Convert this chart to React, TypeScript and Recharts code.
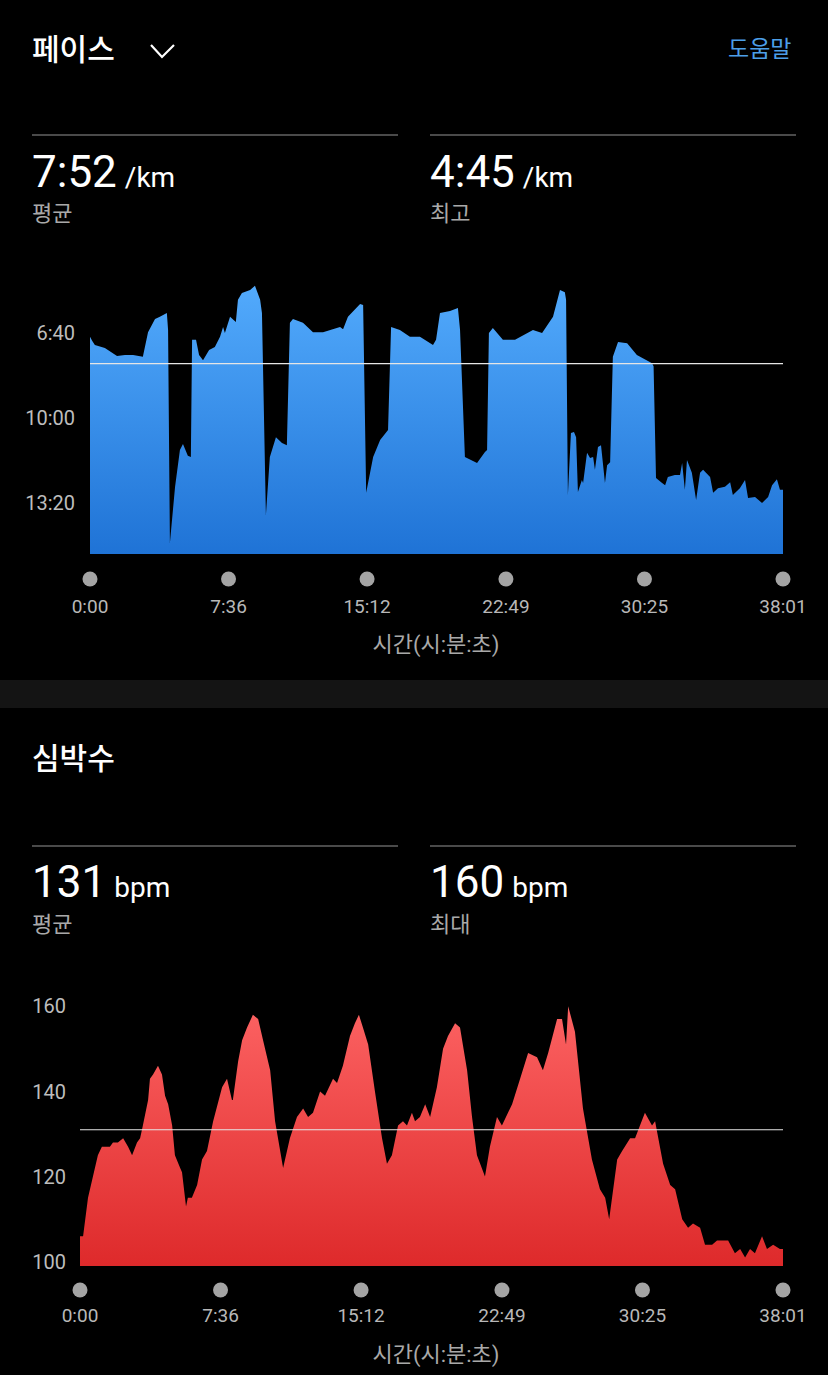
import { AreaChart, Area, XAxis, YAxis, ReferenceLine } from 'recharts';

const FONT = "Roboto, 'Noto Sans CJK KR', sans-serif";

// time axis (seconds), shared by both charts
const TIME_TICKS = [0, 456, 912, 1369, 1825, 2281];

// pace (seconds per km)
const PACE_TICKS = [400, 600, 800];
const PACE_AVG = 472; // 7:52 /km
const PACE_T = [
  0, 7, 16, 49, 89, 115, 142, 174, 191, 214, 230, 253, 257, 263, 280, 296, 306, 322, 332, 336,
  349, 359, 372, 392, 411, 428, 438, 444, 461, 480, 487, 500, 527, 543, 560, 566, 579, 592, 612, 632,
  648, 658, 668, 701, 734, 767, 823, 833, 849, 889, 899, 909, 932, 955, 981, 991,
  1020, 1053, 1086, 1129, 1139, 1152, 1185, 1211, 1218, 1234, 1274, 1300, 1307, 1313, 1326, 1359, 1399, 1458, 1488, 1524,
  1547, 1563, 1567,
  1573, 1583, 1593, 1600, 1606, 1619, 1623, 1636, 1646, 1656, 1662, 1672, 1682, 1695, 1702, 1712, 1721, 1738, 1768, 1800,
  1850, 1855, 1863,
  1883, 1893, 1902, 1925, 1942, 1949, 1958, 1965, 1981, 1995, 2008, 2018, 2041, 2051, 2067, 2090, 2107, 2116, 2139, 2156,
  2166, 2189, 2212, 2232, 2245, 2261, 2271, 2281,
];
const PACE_S = [
  409, 418, 428, 435, 454, 452, 452, 456, 398, 367, 362, 353, 393, 894, 762, 675, 661, 689, 692, 416,
  416, 452, 464, 440, 433, 409, 386, 400, 362, 374, 322, 306, 299, 289, 322, 353, 828, 692, 645, 659,
  664, 376, 367, 376, 398, 398, 386, 391, 362, 332, 334, 776, 692, 652, 628, 386,
  393, 409, 409, 428, 416, 353, 348, 341, 393, 692, 706, 680, 675, 400, 388, 416, 416, 393, 400, 362,
  299, 304, 322,
  781, 635, 633, 645, 774, 746, 753, 682, 694, 692, 722, 668, 664, 753, 711, 704, 456, 421, 424, 452,
  471, 478, 741,
  753, 758, 739, 734, 734, 706, 769, 699, 729, 793, 729, 722, 739, 776, 765, 762, 751, 781, 765, 746,
  788, 786, 800, 786, 758, 744, 769, 769,
];

// heart rate (bpm)
const HR_TICKS = [100, 120, 140, 160];
const HR_AVG = 131;
const HR_T = [
  0, 10, 26, 42, 58, 71, 88, 97, 107, 123, 140, 156, 169, 185, 195, 204, 221, 227, 237, 253,
  266, 276, 286, 299, 308, 325, 331, 344, 350, 363, 380, 396, 412, 432, 461, 477, 493, 496, 513, 526,
  542, 561, 578, 594, 617, 633, 659, 681, 704, 724, 740, 756, 779, 795, 821, 834, 853, 876, 892, 905,
  918, 935, 957, 980, 996, 1012, 1032, 1048, 1061, 1077, 1087, 1103, 1120, 1136, 1158, 1178, 1194, 1217, 1233, 1256,
  1272, 1288, 1314, 1330, 1353, 1369, 1402, 1428, 1454, 1483, 1502, 1519, 1548, 1564, 1577, 1584, 1606, 1632, 1661, 1687,
  1704, 1717, 1743, 1759, 1785, 1801, 1833, 1856, 1866, 1892, 1915, 1931, 1954, 1973, 1989, 2012, 2028, 2051, 2067, 2103,
  2125, 2142, 2158, 2174, 2190, 2213, 2229, 2249, 2271, 2281,
];
const HR_BPM = [
  106, 106, 115, 120, 125, 127, 127, 127, 128, 128, 129, 127, 125, 128, 129, 132, 138, 143, 144, 146,
  144, 139, 137, 132, 125, 122, 121, 113, 115, 115, 118, 124, 126, 133, 141, 143, 138, 138, 147, 152,
  155, 158, 157, 152, 145, 133, 122, 129, 134, 136, 134, 135, 140, 139, 143, 142, 146, 153, 156, 158,
  155, 151, 140, 129, 123, 125, 132, 133, 132, 135, 133, 134, 137, 134, 141, 150, 153, 156, 155, 145,
  134, 125, 120, 127, 134, 132, 137, 143, 149, 148, 145, 149, 157, 157, 151, 160, 154, 136, 124, 117,
  115, 110, 124, 126, 129, 129, 135, 132, 133, 123, 118, 117, 110, 108, 109, 108, 104, 104, 105, 105,
  102, 103, 101, 103, 102, 106, 103, 104, 103, 103,
];

const paceData = PACE_T.map((t, i) => ({ t, pace: PACE_S[i] }));
const hrData = HR_T.map((t, i) => ({ t, hr: HR_BPM[i] }));

const fmt = (s: number) => `${Math.floor(s / 60)}:${String(Math.round(s % 60)).padStart(2, '0')}`;

function TimeTick({ x, y, payload, dotDy, textDy }: any) {
  return (
    <g>
      <circle cx={x} cy={y + dotDy} r={7.5} fill="#a4a4a4" />
      <text x={x} y={y + textDy} textAnchor="middle" fill="#b8b8b8" fontSize={19} fontFamily={FONT}>
        {fmt(payload.value)}
      </text>
    </g>
  );
}

const abs = (left: number, top: number, extra: any = {}) => ({
  position: 'absolute' as const,
  left,
  top,
  lineHeight: 1,
  whiteSpace: 'nowrap' as const,
  ...extra,
});

function Stat({ left, top, value, unit, label, labelTop }: any) {
  return (
    <>
      <div style={abs(left, top, { display: 'flex', alignItems: 'baseline', color: '#fff' })}>
        <span style={{ fontSize: 44 }}>{value}</span>
        <span style={{ fontSize: 28, marginLeft: 8 }}>{unit}</span>
      </div>
      <div style={abs(left, labelTop, { fontSize: 22, color: '#a9a9a9' })}>{label}</div>
    </>
  );
}

export default function App() {
  return (
    <div style={{ position: 'relative', width: 828, height: 1375, background: '#000', fontFamily: FONT, overflow: 'hidden' }}>
      <style>{`body{margin:0;background:#000}`}</style>

      {/* pace header */}
      <div style={abs(32, 35, { fontSize: 30, fontWeight: 500, color: '#fff' })}>페이스</div>
      <svg style={{ position: 'absolute', left: 0, top: 0 }} width={828} height={80}>
        <polyline points="151,45 162,57 174,45" fill="none" stroke="#fff" strokeWidth={2.2} />
      </svg>
      <div style={abs(728, 38, { fontSize: 23, color: '#4c9fe8' })}>도움말</div>
      <div style={{ position: 'absolute', left: 32, top: 134, width: 366, height: 2, background: '#4a4a4a' }} />
      <div style={{ position: 'absolute', left: 430, top: 134, width: 366, height: 2, background: '#4a4a4a' }} />
      <Stat left={32} top={150} value="7:52" unit="/km" label="평균" labelTop={203} />
      <Stat left={430} top={150} value="4:45" unit="/km" label="최고" labelTop={203} />

      <div style={{ position: 'absolute', left: 0, top: 260 }}>
        <AreaChart width={828} height={380} data={paceData} margin={{ top: 22, right: 45, bottom: 0, left: 0 }}>
          <defs>
            <linearGradient id="paceFill" x1="0" y1="0" x2="0" y2="1">
              <stop offset="0%" stopColor="#52aafc" />
              <stop offset="100%" stopColor="#1f73d6" />
            </linearGradient>
          </defs>
          <XAxis
            type="number"
            dataKey="t"
            domain={[0, 2281]}
            ticks={TIME_TICKS}
            interval={0}
            height={86}
            axisLine={false}
            tickLine={false}
            tickSize={0}
            tickMargin={0}
            tick={(p: any) => <TimeTick {...p} dotDy={25} textDy={59} />}
          />
          <YAxis
            type="number"
            reversed
            domain={[280, 920]}
            ticks={PACE_TICKS}
            interval={0}
            width={90}
            axisLine={false}
            tickLine={false}
            tickSize={0}
            tickMargin={15}
            allowDataOverflow
            tickFormatter={fmt}
            tick={{ fill: '#bdbdbd', fontSize: 20, fontFamily: FONT }}
          />
          <Area
            type="linear"
            dataKey="pace"
            stroke="none"
            fill="url(#paceFill)"
            fillOpacity={1}
            baseValue="dataMax"
            isAnimationActive={false}
          />
          <ReferenceLine y={PACE_AVG} stroke="#e6e6e6" strokeWidth={1.2} />
        </AreaChart>
      </div>
      <div style={abs(0, 634, { width: 872, textAlign: 'center', fontSize: 22, color: '#a9a9a9' })}>시간(시:분:초)</div>

      {/* separator */}
      <div style={{ position: 'absolute', left: 0, top: 680, width: 828, height: 28, background: '#141414' }} />

      {/* heart rate header */}
      <div style={abs(32, 744, { fontSize: 30, fontWeight: 500, color: '#fff' })}>심박수</div>
      <div style={{ position: 'absolute', left: 32, top: 845, width: 366, height: 2, background: '#4a4a4a' }} />
      <div style={{ position: 'absolute', left: 430, top: 845, width: 366, height: 2, background: '#4a4a4a' }} />
      <Stat left={32} top={860} value="131" unit="bpm" label="평균" labelTop={914} />
      <Stat left={430} top={860} value="160" unit="bpm" label="최대" labelTop={914} />

      <div style={{ position: 'absolute', left: 0, top: 980 }}>
        <AreaChart width={828} height={376} data={hrData} margin={{ top: 22, right: 45, bottom: 0, left: 0 }}>
          <defs>
            <linearGradient id="hrFill" x1="0" y1="0" x2="0" y2="1">
              <stop offset="0%" stopColor="#fc6262" />
              <stop offset="100%" stopColor="#de2a2b" />
            </linearGradient>
          </defs>
          <XAxis
            type="number"
            dataKey="t"
            domain={[0, 2281]}
            ticks={TIME_TICKS}
            interval={0}
            height={90}
            axisLine={false}
            tickLine={false}
            tickSize={0}
            tickMargin={0}
            tick={(p: any) => <TimeTick {...p} dotDy={24} textDy={56} />}
          />
          <YAxis
            type="number"
            domain={[99, 161]}
            ticks={HR_TICKS}
            interval={0}
            width={80}
            axisLine={false}
            tickLine={false}
            tickSize={0}
            tickMargin={14}
            allowDataOverflow
            tick={{ fill: '#bdbdbd', fontSize: 20, fontFamily: FONT }}
          />
          <Area
            type="linear"
            dataKey="hr"
            stroke="none"
            fill="url(#hrFill)"
            fillOpacity={1}
            isAnimationActive={false}
          />
          <ReferenceLine y={HR_AVG} stroke="#e6e6e6" strokeWidth={1.2} />
        </AreaChart>
      </div>
      <div style={abs(0, 1344, { width: 872, textAlign: 'center', fontSize: 22, color: '#a9a9a9' })}>시간(시:분:초)</div>
    </div>
  );
}
